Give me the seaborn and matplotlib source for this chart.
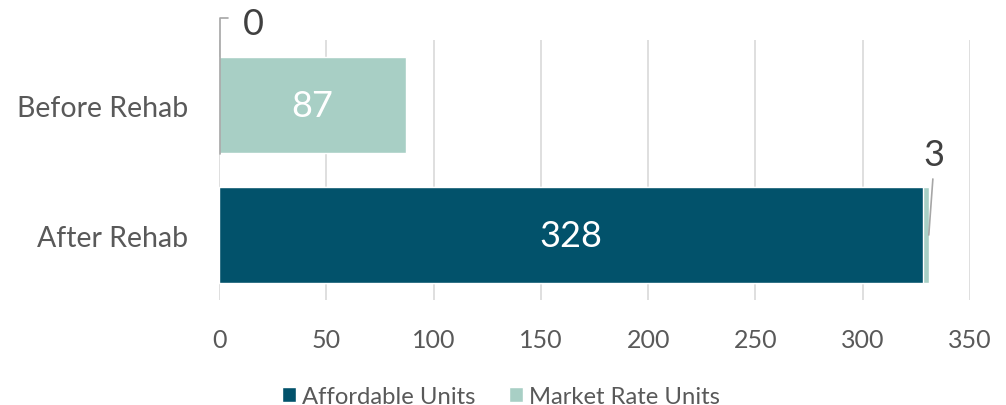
import matplotlib
matplotlib.use('Agg')
import matplotlib.pyplot as plt
import pandas as pd
import seaborn as sns
from matplotlib.patches import Patch

# 数据
categories = ['Before Rehab', 'After Rehab']
affordable = [0, 328]
market_rate = [87, 3]
series_names = ['Affordable Units', 'Market Rate Units']

dark = '#02526B'
light = '#A8CFC5'
text_gray = '#595959'
label_dark = '#404040'
line_gray = '#A6A6A6'

sns.set_style('white')
plt.rcParams['font.family'] = ['Lato', 'DejaVu Sans']

df = pd.DataFrame({'category': categories,
                   'affordable': affordable,
                   'market': market_rate})
df['total'] = df['affordable'] + df['market']

fig = plt.figure(figsize=(10.06, 4.06), dpi=100)
ax = fig.add_axes([0.2177, 0.2586, 0.9642 - 0.2177, 0.899 - 0.2586])

# 堆叠条形图：先画总数（浅色），再画可负担部分（深色）
sns.barplot(data=df, y='category', x='total', color=light, width=0.74,
            orient='h', ax=ax, saturation=1, zorder=2)
sns.barplot(data=df, y='category', x='affordable', color=dark, width=0.74,
            orient='h', ax=ax, saturation=1, zorder=3)

ax.set_xlim(0, 350)
ax.set_ylim(1.5, -0.5)
ax.set_xticks(range(0, 351, 50))
ax.grid(axis='x', color='#D9D9D9', linewidth=1.2, zorder=0)
ax.set_axisbelow(True)
for s in ax.spines.values():
    s.set_visible(False)
ax.tick_params(axis='both', length=0, colors=text_gray)
ax.tick_params(axis='x', pad=20, labelsize=18)
ax.tick_params(axis='y', pad=22, labelsize=20.5)
ax.set_xlabel('')
ax.set_ylabel('')

# 条内数值标签
for i, row in df.iterrows():
    if row['affordable'] > 0:
        ax.text(row['affordable'] / 2, i, str(row['affordable']), color='white',
                fontsize=26, ha='center', va='center', zorder=5)
    if row['market'] > 20:
        ax.text(row['affordable'] + row['market'] / 2, i, str(row['market']),
                color='white', fontsize=26, ha='center', va='center', zorder=5)

# 小数值的引线标签
# Before Rehab 的 affordable = 0
v = affordable[0]
ax.plot([v + 0.5, v + 0.5, v + 4.2], [0.377, -0.669, -0.669], color=line_gray,
        linewidth=1.2, clip_on=False, zorder=4)
ax.text(v + 15.8, -0.63, str(v), color=label_dark, fontsize=26,
        ha='center', va='center', clip_on=False)

# After Rehab 的 market = 3
t = df['total'][1]
ax.plot([t - 0.2, t + 1.7], [1.0, 0.569], color=line_gray, linewidth=1.2,
        clip_on=False, zorder=4)
ax.text(t + 2.2, 0.38, str(market_rate[1]), color=label_dark, fontsize=26,
        ha='center', va='center')

handles = [Patch(facecolor=dark, label=series_names[0]),
           Patch(facecolor=light, label=series_names[1])]
fig.legend(handles=handles, loc='center', bbox_to_anchor=(0.498, 0.022),
           ncol=2, frameon=False, fontsize=17.2, handlelength=0.58,
           handleheight=0.58, handletextpad=0.25, columnspacing=1.4,
           labelcolor=text_gray)

fig.savefig('out.png', dpi=100)
